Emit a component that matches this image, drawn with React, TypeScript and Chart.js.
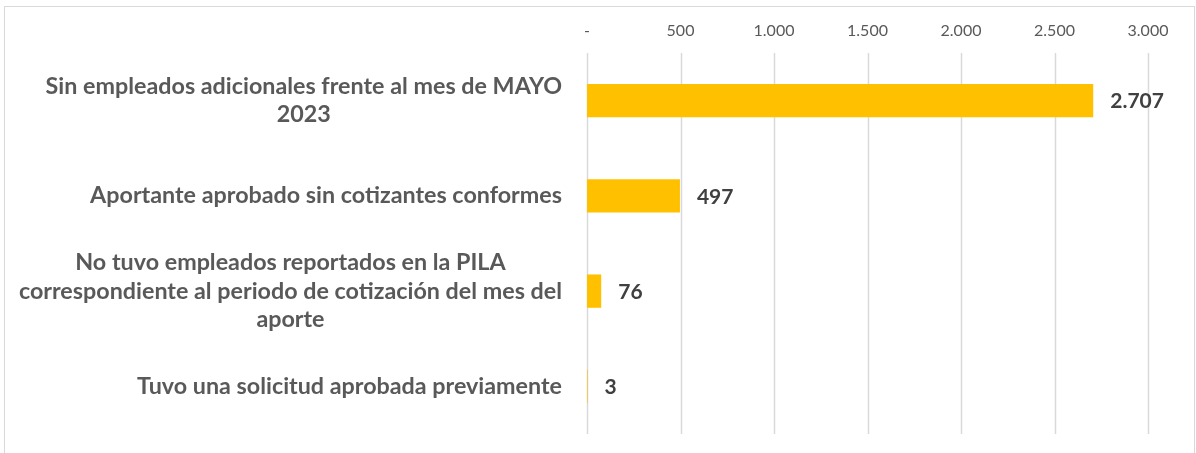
import React, { useEffect, useRef } from "react";
import { Chart, registerables } from "chart.js";

Chart.register(...registerables);

const categories: string[][] = [
  ["Sin empleados adicionales frente al mes de MAYO", "2023"],
  ["Aportante aprobado sin cotizantes conformes"],
  ["No tuvo empleados reportados en la PILA", "correspondiente al periodo de cotización del mes del", "aporte"],
  ["Tuvo una solicitud aprobada previamente"],
];
const values: number[] = [2707, 497, 76, 3];
const tickValues: number[] = [0, 500, 1000, 1500, 2000, 2500, 3000];

const fmt = (v: number) => (v === 0 ? "-" : v.toLocaleString("de-DE"));

const FAMILY = "Lato, 'Open Sans', sans-serif";

export default function App() {
  const ref = useRef<HTMLCanvasElement>(null);
  useEffect(() => {
    document.body.style.margin = "0";
    const ctx = ref.current!;
    const customPlugin = {
      id: "custom",
      beforeDraw(chart: any) {
        const c = chart.ctx;
        c.save();
        c.strokeStyle = "#d9d9d9";
        c.lineWidth = 1;
        c.strokeRect(4.5, 6.5, 1190, 470);
        const xs = chart.scales.x;
        const { top, bottom } = chart.chartArea;
        c.strokeStyle = "#d9d9d9";
        c.lineWidth = 1.5;
        tickValues.forEach((t) => {
          const px = Math.round(xs.getPixelForValue(t)) + 0.5;
          c.beginPath();
          c.moveTo(px, top);
          c.lineTo(px, bottom);
          c.stroke();
        });
        c.restore();
      },
      afterDatasetsDraw(chart: any) {
        const c = chart.ctx;
        const meta = chart.getDatasetMeta(0);
        const ys = chart.scales.y;
        c.save();
        c.font = `bold 21px ${FAMILY}`;
        c.fillStyle = "#404040";
        c.textAlign = "left";
        c.textBaseline = "middle";
        meta.data.forEach((el: any, i: number) => {
          c.fillText(fmt(values[i]), el.x + 17, el.y + 1);
        });
        c.font = `bold 23.3px ${FAMILY}`;
        c.fillStyle = "#595959";
        c.textAlign = "center";
        const right = chart.chartArea.left - 25;
        const lh = 28.5;
        categories.forEach((lines, i) => {
          const cy = ys.getPixelForValue(i);
          const w = Math.max(...lines.map((l) => c.measureText(l).width));
          const cx = right - w / 2;
          const start = cy - ((lines.length - 1) * lh) / 2;
          lines.forEach((l, j) => c.fillText(l, cx, start + j * lh));
        });
        c.restore();
      },
    };
    const chart = new Chart(ctx, {
      type: "bar",
      data: {
        labels: categories.map((l) => l.join(" ")),
        datasets: [
          {
            data: values,
            backgroundColor: "#FFC000",
            borderWidth: 0,
            barPercentage: 0.35,
            categoryPercentage: 1,
          },
        ],
      },
      options: {
        indexAxis: "y",
        animation: false,
        responsive: false,
        maintainAspectRatio: false,
        layout: { padding: { left: 587, right: 48, top: 0, bottom: 19 } },
        plugins: { legend: { display: false }, tooltip: { enabled: false } },
        scales: {
          x: {
            position: "top",
            min: 0,
            max: 3000,
            afterBuildTicks: (s: any) => {
              s.ticks = tickValues.map((v) => ({ value: v }));
            },
            afterFit: (s: any) => {
              s.height = 53;
            },
            grid: { display: false, drawTicks: false },
            border: { display: false },
            ticks: {
              callback: (v: any) => fmt(Number(v)),
              color: "#595959",
              font: { family: FAMILY, size: 16 },
              padding: 13,
            },
          },
          y: {
            afterFit: (s: any) => {
              s.width = 0;
            },
            ticks: { display: false },
            grid: { display: false },
            border: { display: false },
          },
        },
      },
      plugins: [customPlugin],
    });
    return () => chart.destroy();
  }, []);
  return (
    <div style={{ width: 1196, height: 453 }}>
      <canvas ref={ref} width={1196} height={453} />
    </div>
  );
}
